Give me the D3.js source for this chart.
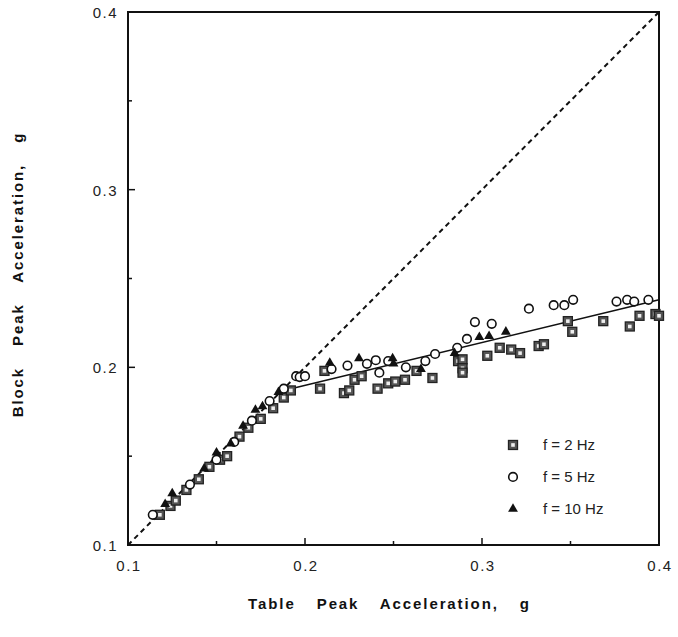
<!DOCTYPE html>
<html>
<head>
<meta charset="utf-8">
<script src="https://cdn.jsdelivr.net/npm/d3@7"></script>
<style>
  body { margin: 0; background: #fff; }
  svg { display: block; font-family: "Liberation Sans", Arial, sans-serif; }
  .tick-label { font-size: 15px; fill: #222; letter-spacing: 1.5px; }
  .axis-title { font-size: 15px; font-weight: bold; fill: #111; letter-spacing: 1.9px; word-spacing: 15px; }
  .legend-text { font-size: 15px; fill: #222; }
</style>
</head>
<body>
<svg id="chart" width="678" height="637"></svg>
<script>
// Messpunkte: [Tischbeschleunigung, Blockbeschleunigung] in g
const hz2 = [
    [0.118, 0.117], [0.124, 0.122], [0.127, 0.125], [0.133, 0.131], [0.140, 0.137],
    [0.146, 0.144], [0.152, 0.148], [0.156, 0.150], [0.163, 0.161], [0.168, 0.166],
    [0.175, 0.171], [0.182, 0.177], [0.188, 0.183], [0.192, 0.187],
    [0.2085, 0.188], [0.211, 0.198], [0.222, 0.1855], [0.225, 0.187], [0.228, 0.193],
    [0.232, 0.195], [0.241, 0.188], [0.247, 0.191], [0.251, 0.192], [0.2565, 0.193],
    [0.263, 0.198], [0.272, 0.194], [0.2865, 0.2035], [0.289, 0.2045], [0.289, 0.1995],
    [0.289, 0.197], [0.303, 0.2065], [0.310, 0.211], [0.3165, 0.210], [0.3215, 0.208],
    [0.332, 0.212], [0.335, 0.213], [0.3485, 0.226], [0.351, 0.220], [0.3685, 0.226],
    [0.3835, 0.223], [0.389, 0.229], [0.398, 0.230], [0.400, 0.229]
];
const hz5 = [
    [0.114, 0.117], [0.135, 0.134], [0.150, 0.148], [0.160, 0.158], [0.170, 0.170],
    [0.180, 0.181], [0.188, 0.188], [0.195, 0.195],
    [0.197, 0.1945], [0.200, 0.195], [0.215, 0.199], [0.224, 0.201], [0.235, 0.202],
    [0.240, 0.204], [0.242, 0.197], [0.247, 0.2035], [0.257, 0.200], [0.268, 0.2035],
    [0.2735, 0.2075], [0.286, 0.211], [0.2915, 0.216], [0.296, 0.2255], [0.3055, 0.2245],
    [0.3265, 0.233], [0.3405, 0.235], [0.3465, 0.235], [0.3515, 0.238], [0.376, 0.237],
    [0.382, 0.238], [0.386, 0.237], [0.394, 0.238]
];
const hz10 = [
    [0.121, 0.123], [0.125, 0.129], [0.143, 0.143], [0.150, 0.152], [0.158, 0.157],
    [0.165, 0.167], [0.172, 0.176], [0.176, 0.178], [0.185, 0.186],
    [0.214, 0.2025], [0.2305, 0.205], [0.2495, 0.205], [0.250, 0.202], [0.2655, 0.199],
    [0.2845, 0.208], [0.2985, 0.217], [0.304, 0.2175], [0.3135, 0.220]
];
// Gleichheitslinie und Ausgleichsgerade
const equalLine = [[0.1, 0.1], [0.4, 0.4]];
const fitLine = [[0.188, 0.187], [0.4, 0.238]];

const majorTicks = [0.1, 0.2, 0.3, 0.4];
const minorTicks = [0.15, 0.25, 0.35];
const legendLabels = ['f = 2 Hz', 'f = 5 Hz', 'f = 10 Hz'];

const svg = d3.select('#chart');
const margin = { top: 12, right: 19, bottom: 92, left: 128 };
const width = 678 - margin.left - margin.right;
const height = 637 - margin.top - margin.bottom;

const g = svg.append('g')
    .attr('transform', `translate(${margin.left},${margin.top})`);

const x = d3.scaleLinear().domain([0.1, 0.4]).range([0, width]);
const y = d3.scaleLinear().domain([0.1, 0.4]).range([height, 0]);

// Rahmen
g.append('rect')
    .attr('width', width)
    .attr('height', height)
    .attr('fill', 'none')
    .attr('stroke', '#111')
    .attr('stroke-width', 2);

// Ticks nach innen
const tickLen = v => (minorTicks.includes(v) ? 4 : 7);
g.selectAll('.xtick')
    .data(majorTicks.slice(1, 3).concat(minorTicks))
    .enter().append('line')
    .attr('x1', d => x(d)).attr('x2', d => x(d))
    .attr('y1', height).attr('y2', d => height - tickLen(d))
    .attr('stroke', '#111').attr('stroke-width', 1.5);
g.selectAll('.ytick')
    .data(majorTicks.slice(1, 3).concat(minorTicks))
    .enter().append('line')
    .attr('y1', d => y(d)).attr('y2', d => y(d))
    .attr('x1', 0).attr('x2', d => tickLen(d))
    .attr('stroke', '#111').attr('stroke-width', 1.5);

// Tick-Beschriftungen
g.selectAll('.xlab')
    .data(majorTicks)
    .enter().append('text')
    .attr('class', 'tick-label')
    .attr('x', d => x(d) + 1)
    .attr('y', height + 26)
    .attr('text-anchor', 'middle')
    .text(d => d3.format('.1f')(d));
g.selectAll('.ylab')
    .data(majorTicks)
    .enter().append('text')
    .attr('class', 'tick-label')
    .attr('x', -10)
    .attr('y', d => y(d) + 6)
    .attr('text-anchor', 'end')
    .text(d => d3.format('.1f')(d));

// Achsentitel
g.append('text')
    .attr('class', 'axis-title')
    .attr('x', width / 2 - 4)
    .attr('y', height + 64)
    .attr('text-anchor', 'middle')
    .text('Table Peak Acceleration, g');
g.append('text')
    .attr('class', 'axis-title')
    .attr('transform', `translate(${-105},${height / 2 - 4}) rotate(-90)`)
    .attr('text-anchor', 'middle')
    .text('Block Peak Acceleration, g');

// Linien
const line = d3.line().x(d => x(d[0])).y(d => y(d[1]));
g.append('path')
    .attr('d', line(equalLine))
    .attr('fill', 'none')
    .attr('stroke', '#111')
    .attr('stroke-width', 2)
    .attr('stroke-dasharray', '5,4');
g.append('path')
    .attr('d', line(fitLine))
    .attr('fill', 'none')
    .attr('stroke', '#111')
    .attr('stroke-width', 1.6);

// Marker-Funktionen
function drawSquare(sel) {
    sel.append('rect')
        .attr('x', -4.5).attr('y', -4.5)
        .attr('width', 9).attr('height', 9)
        .attr('fill', '#555')
        .attr('stroke', '#222')
        .attr('stroke-width', 1.3);
    sel.append('rect')
        .attr('x', -1.8).attr('y', -1.8)
        .attr('width', 3.6).attr('height', 3.6)
        .attr('fill', '#eee');
}
function drawCircle(sel) {
    sel.append('circle')
        .attr('r', 4.3)
        .attr('fill', '#fff')
        .attr('stroke', '#111')
        .attr('stroke-width', 1.6);
}
function drawTriangle(sel) {
    sel.append('path')
        .attr('d', d3.symbol().type(d3.symbolTriangle).size(42)())
        .attr('fill', '#111');
}

function plotSeries(data, cls, drawer) {
    const pts = g.selectAll('.' + cls)
        .data(data)
        .enter().append('g')
        .attr('class', cls)
        .attr('transform', d => `translate(${x(d[0])},${y(d[1])})`);
    drawer(pts);
}
plotSeries(hz2, 'pt-2', drawSquare);
plotSeries(hz5, 'pt-5', drawCircle);
plotSeries(hz10, 'pt-10', drawTriangle);

// Legende
const drawers = [drawSquare, drawCircle, drawTriangle];
const legend = g.append('g')
    .attr('transform', `translate(${x(0.3) + 31},${y(0.1563)})`);
legendLabels.forEach((lab, i) => {
    const row = legend.append('g').attr('transform', `translate(0,${i * 32})`);
    drawers[i](row.append('g'));
    row.append('text')
        .attr('class', 'legend-text')
        .attr('x', 30)
        .attr('y', 5)
        .text(lab);
});
</script>
</body>
</html>
